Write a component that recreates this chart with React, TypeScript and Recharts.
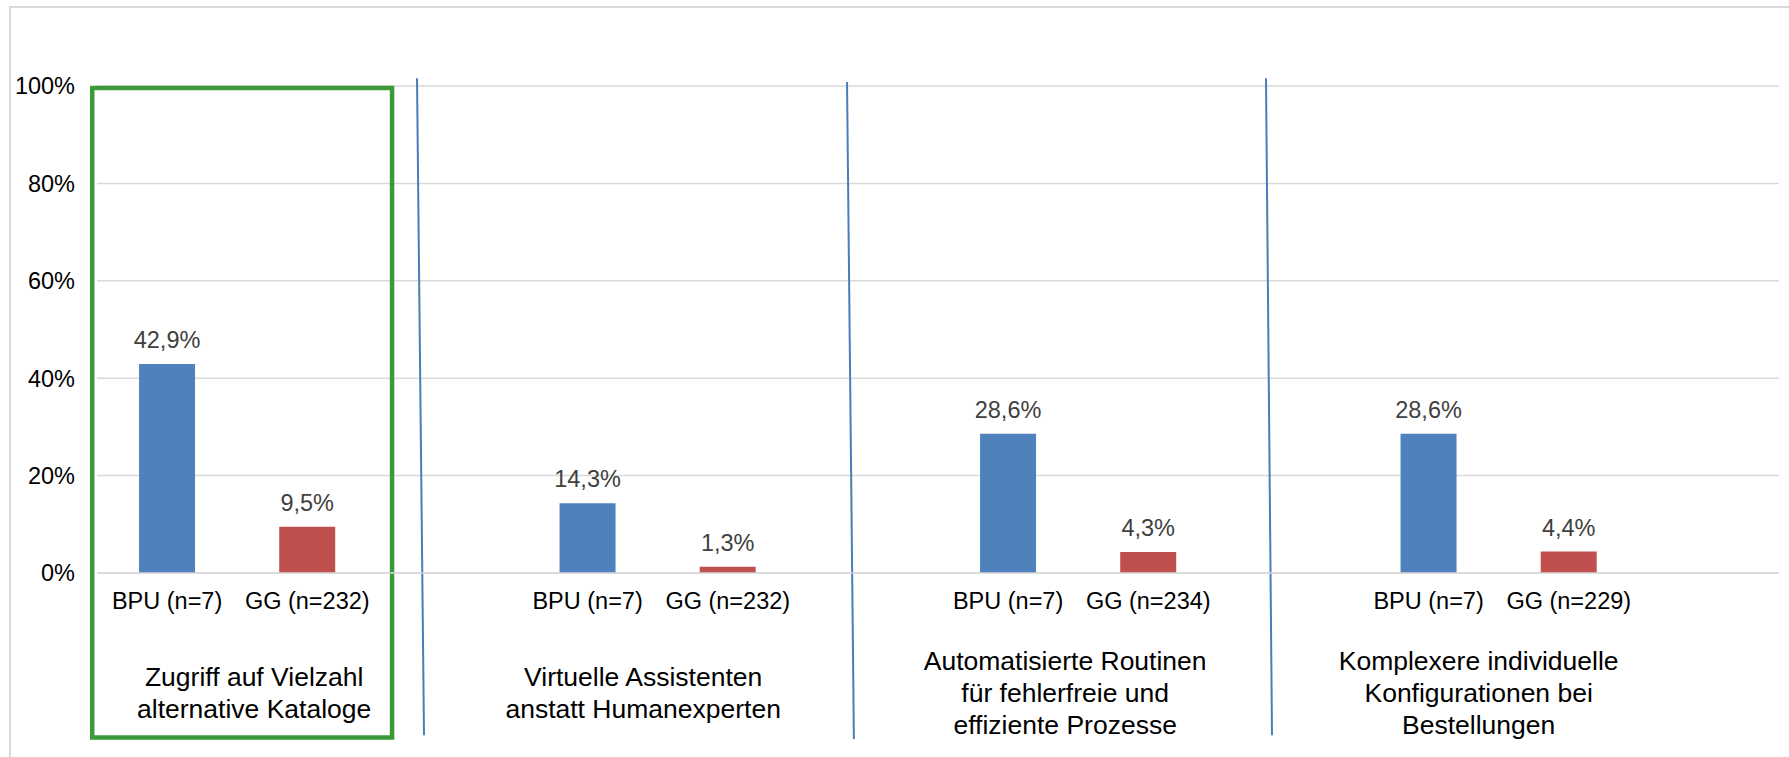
import React from 'react';
import {
  BarChart,
  Bar,
  XAxis,
  YAxis,
  CartesianGrid,
  Cell,
  LabelList,
  ReferenceLine,
  ReferenceArea,
} from 'recharts';

// ---------- data ----------
const groupNames: string[][] = [
  ['Zugriff auf Vielzahl', 'alternative Kataloge'],
  ['Virtuelle Assistenten', 'anstatt Humanexperten'],
  ['Automatisierte Routinen', 'für fehlerfreie und', 'effiziente Prozesse'],
  ['Komplexere individuelle', 'Konfigurationen bei', 'Bestellungen'],
];
const bpuValues = [42.9, 14.3, 28.6, 28.6];
const ggValues = [9.5, 1.3, 4.3, 4.4];
const bpuN = [7, 7, 7, 7];
const ggN = [232, 232, 234, 229];
const yTicks = [0, 20, 40, 60, 80, 100];

// ---------- annotations (x in category slots from the left edge, y in percent) ----------
const separators = [
  [{ x: 2.283, y: 101.6 }, { x: 2.333, y: -33.3 }],
  [{ x: 5.351, y: 100.8 }, { x: 5.4, y: -34.1 }],
  [{ x: 8.34, y: 101.6 }, { x: 8.383, y: -33.3 }],
];
const highlightBox = { x1: -0.034, x2: 2.105, y1: -33.8, y2: 99.6 };
const groupLabelDx = [17, -14.5, -13, -20];

const BLUE = '#4f81bd';
const RED = '#c0504d';
const FONT = 'Liberation Sans, Arial, Helvetica, sans-serif';
const FS = 23.5;
const FS_GROUP = 26.5;

type Row = { key: string; label: string; value: number | null; series: string; group: number };

const data: Row[] = groupNames.flatMap((_, g) => [
  { key: `${g}-bpu`, label: `BPU (n=${bpuN[g]})`, value: bpuValues[g], series: 'bpu', group: g },
  { key: `${g}-gg`, label: `GG (n=${ggN[g]})`, value: ggValues[g], series: 'gg', group: g },
  { key: `${g}-gap`, label: '', value: null, series: 'gap', group: g },
]);

// the hidden numeric axis spans indices 0..n-1 across the plot width
const slotToAxis = (s: number) => (s * (data.length - 1)) / data.length;

const fmt = (v: number) => `${v.toFixed(1).replace('.', ',')}%`;

const CategoryTick = (props: any) => {
  const { x, y, payload, width, index } = props;
  const idx = typeof index === 'number' ? index : payload.index;
  const row = data[idx];
  if (!row) return null;
  const slot = width ? width / data.length : 140.17;
  const lines = groupNames[row.group];
  const n = lines.length;
  return (
    <g>
      {row.label ? (
        <text x={x} y={y + 36} textAnchor="middle" fontSize={FS} fontFamily={FONT} fill="#000">
          {row.label}
        </text>
      ) : null}
      {row.series === 'bpu'
        ? lines.map((l, i) => (
            <text
              key={i}
              x={x + slot / 2 + groupLabelDx[row.group]}
              y={y + 129 + (i - (n - 1) / 2) * 32}
              textAnchor="middle"
              fontSize={FS_GROUP}
              fontFamily={FONT}
              fill="#000"
            >
              {l}
            </text>
          ))
        : null}
    </g>
  );
};

const ValueLabel = (props: any) => {
  const { x, y, width, value } = props;
  if (value === null || value === undefined) return null;
  return (
    <text
      x={x + width / 2}
      y={y - 16}
      textAnchor="middle"
      fontSize={FS}
      fontFamily={FONT}
      fill="#404040"
    >
      {fmt(value)}
    </text>
  );
};

export default function App() {
  return (
    <div
      style={{
        position: 'absolute',
        left: 0,
        top: 0,
        width: 1789,
        height: 757,
        background: '#fff',
        overflow: 'hidden',
      }}
    >
      <div
        style={{
          position: 'absolute',
          left: 9,
          top: 6,
          width: 1800,
          height: 800,
          borderLeft: '2px solid #d9d9d9',
          borderTop: '2px solid #d9d9d9',
        }}
      />
      <div style={{ position: 'absolute', left: 0, top: 0 }}>
        <BarChart
          width={1789}
          height={757}
          data={data}
          margin={{ top: 86, right: 10, left: 10, bottom: 154 }}
          barCategoryGap="30%"
        >
          <CartesianGrid vertical={false} stroke="#d9d9d9" strokeWidth={1.5} />
          <XAxis
            dataKey="key"
            interval={0}
            tickLine={false}
            tickSize={0}
            tickMargin={0}
            height={30}
            axisLine={{ stroke: '#d9d9d9', strokeWidth: 1.5 }}
            tick={<CategoryTick />}
          />
          <XAxis
            xAxisId="num"
            type="number"
            domain={[0, data.length - 1]}
            hide
            allowDataOverflow
          />
          <YAxis
            width={87}
            domain={[0, 100]}
            ticks={yTicks}
            interval={0}
            axisLine={false}
            tickLine={false}
            tickSize={0}
            tickMargin={22}
            tickFormatter={(v: number) => `${v}%`}
            tick={{ fontSize: FS, fontFamily: FONT, fill: '#000' }}
          />
          <Bar dataKey="value" isAnimationActive={false}>
            {data.map((r) => (
              <Cell key={r.key} fill={r.series === 'bpu' ? BLUE : RED} />
            ))}
            <LabelList dataKey="value" content={<ValueLabel />} />
          </Bar>
          {separators.map((seg, i) => (
            <ReferenceLine
              key={i}
              xAxisId="num"
              segment={seg.map((p) => ({ x: slotToAxis(p.x), y: p.y }))}
              stroke="#4a7ebb"
              strokeWidth={2}
              ifOverflow="visible"
            />
          ))}
          <ReferenceArea
            xAxisId="num"
            x1={slotToAxis(highlightBox.x1)}
            x2={slotToAxis(highlightBox.x2)}
            y1={highlightBox.y1}
            y2={highlightBox.y2}
            fill="none"
            fillOpacity={0}
            stroke="#3a9a3a"
            strokeWidth={4.5}
            ifOverflow="visible"
          />
        </BarChart>
      </div>
    </div>
  );
}
